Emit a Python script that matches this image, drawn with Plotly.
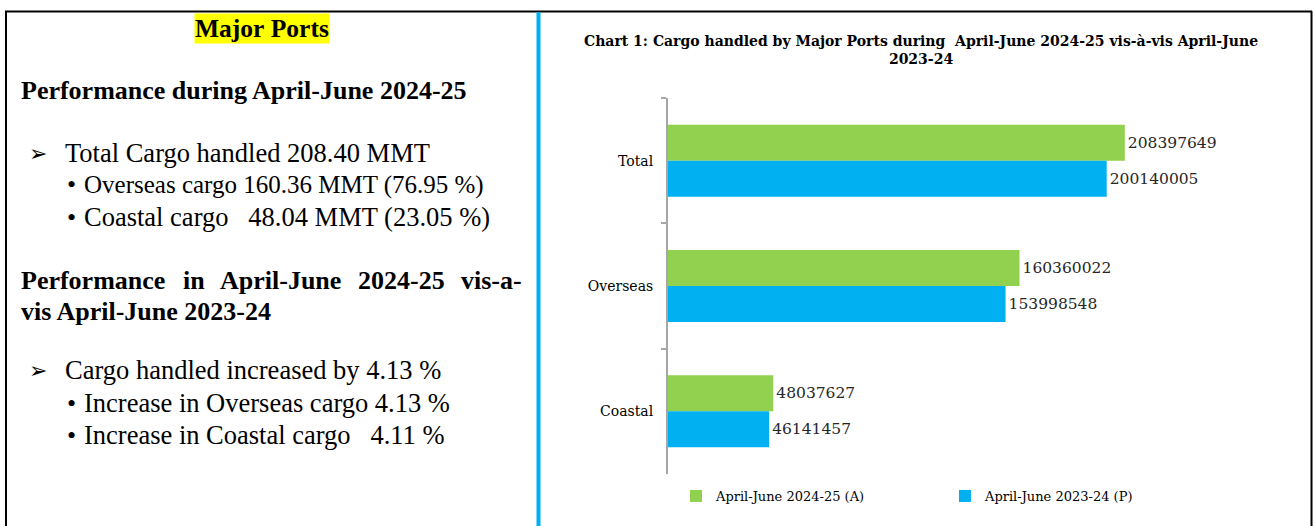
import plotly.graph_objects as go

categories = ["Total", "Overseas", "Coastal"]
series_2024 = [208397649, 160360022, 48037627]
series_2023 = [200140005, 153998548, 46141457]
series_names = ["April-June 2024-25 (A)", "April-June 2023-24 (P)"]
chart_title = "Chart 1: Cargo handled by Major Ports during  April-June 2024-25 vis-à-vis April-June<br>2023-24"

W, H = 1314, 526
GREEN = "#92D050"
BLUE = "#00B0F0"
SERIF = "Liberation Serif, Times New Roman, serif"
CSERIF = "DejaVu Serif, serif"

def px(x):
    return x / W

def py(y):
    return 1 - y / H

fig = go.Figure()
fig.add_trace(go.Bar(
    y=categories, x=series_2024, name=series_names[0], orientation="h",
    marker=dict(color=GREEN, line=dict(width=0)),
    text=[str(v) for v in series_2024], textposition="outside",
    textfont=dict(family=CSERIF, size=15.5, color="#262626"), cliponaxis=False,
))
fig.add_trace(go.Bar(
    y=categories, x=series_2023, name=series_names[1], orientation="h",
    marker=dict(color=BLUE, line=dict(width=0)),
    text=[str(v) for v in series_2023], textposition="outside",
    textfont=dict(family=CSERIF, size=15.5, color="#262626"), cliponaxis=False,
))

fig.update_layout(
    width=W, height=H,
    margin=dict(l=0, r=0, t=0, b=0),
    paper_bgcolor="white", plot_bgcolor="white",
    barmode="group", bargap=0.425, bargroupgap=0,
    showlegend=True,
    legend=dict(orientation="h", x=px(676), y=py(496), xanchor="left", yanchor="middle",
                font=dict(family=CSERIF, size=13, color="#000000"),
                entrywidth=224, entrywidthmode="pixels",
                traceorder="normal", bgcolor="rgba(0,0,0,0)"),
    xaxis=dict(domain=[px(668), px(1216)], range=[0, 250e6], visible=False),
    yaxis=dict(domain=[py(474), py(98)], autorange="reversed", type="category",
               showline=True, linecolor="#A6A6A6", linewidth=2,
               ticks="outside", tickson="boundaries", ticklen=5, tickcolor="#A6A6A6", tickwidth=2,
               ticklabelstandoff=10,
               tickfont=dict(family=CSERIF, size=14, color="#000000"),
               showgrid=False, zeroline=False),
)

# chart title
fig.add_annotation(x=px(921), y=py(50), xref="paper", yref="paper", text="<b>" + chart_title + "</b>",
                   showarrow=False, xanchor="center", yanchor="middle",
                   font=dict(family=CSERIF, size=14, color="#000000"))

# frame lines
fig.add_shape(type="line", xref="paper", yref="paper", x0=px(5), x1=px(1312), y0=py(11.5), y1=py(11.5),
              line=dict(color="black", width=2))
fig.add_shape(type="line", xref="paper", yref="paper", x0=px(6), x1=px(6), y0=py(11), y1=0,
              line=dict(color="black", width=2))
fig.add_shape(type="line", xref="paper", yref="paper", x0=px(1311.5), x1=px(1311.5), y0=py(11), y1=0,
              line=dict(color="black", width=2))
fig.add_shape(type="line", xref="paper", yref="paper", x0=px(538.5), x1=px(538.5), y0=py(12), y1=0,
              line=dict(color=BLUE, width=4))

# left text panel
def txt(x, y, s, bold=False, size=26.5, xanchor="left", bg=None):
    fig.add_annotation(x=px(x), y=py(y), xref="paper", yref="paper",
                       text=("<b>" + s + "</b>") if bold else s,
                       showarrow=False, xanchor=xanchor, yanchor="middle",
                       font=dict(family=SERIF, size=size, color="#000000"),
                       bgcolor=bg, borderpad=0)

NB = "\u00a0"
txt(262, 29, "Major" + NB + "Ports", bold=True, size=25.5, xanchor="center", bg="#FFFF00")
txt(20, 91, "Performance during April-June 2024-25", bold=True, size=26)
txt(28, 153, "➢", size=22)
txt(64, 153, "Total Cargo handled 208.40 MMT")
txt(66, 185, "•", size=26)
txt(83, 185, "Overseas cargo 160.36 MMT (76.95 %)", size=25)
txt(66, 217, "•", size=26)
txt(83, 217, "Coastal cargo" + NB * 3 + "48.04 MMT (23.05 %)")
for wx, w in [(20, "Performance"), (182, "in"), (219, "April-June"), (357, "2024-25"), (460, "vis-a-")]:
    txt(wx, 280, w, bold=True, size=26)
txt(20, 311, "vis April-June 2023-24", bold=True, size=26)
txt(28, 370, "➢", size=22)
txt(64, 370, "Cargo handled increased by 4.13 %")
txt(66, 403, "•", size=26)
txt(83, 403, "Increase in Overseas cargo 4.13 %")
txt(66, 435, "•", size=26)
txt(83, 435, "Increase in Coastal cargo" + NB * 3 + "4.11 %")

fig.write_html("out.html", config={"displayModeBar": False},
               post_script="document.body.style.margin='0px';")
